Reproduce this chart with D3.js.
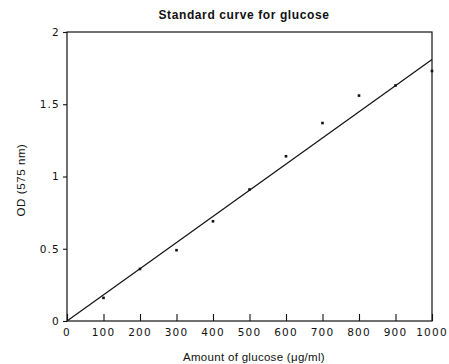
<!DOCTYPE html>
<html><head><meta charset="utf-8">
<script src="https://cdn.jsdelivr.net/npm/d3@7"></script>
<style>
body{margin:0;background:#fff;}
text{font-family:"Liberation Sans",Arial,sans-serif;fill:#111;}
</style></head>
<body><svg id="c" width="449" height="364"></svg>
<script>
const glucose = [100, 200, 300, 400, 500, 600, 700, 800, 900, 1000];
const od = [0.16, 0.36, 0.49, 0.69, 0.91, 1.14, 1.37, 1.56, 1.63, 1.73];
const fitX = [0, 1000];
const fitY = [0, 1.81];
const xTicks = [0, 100, 200, 300, 400, 500, 600, 700, 800, 900, 1000];
const yTicks = [0, 0.5, 1, 1.5, 2];
const yTickLabels = ["0", "0.5", "1", "1.5", "2"];

const svg = d3.select("#c");
const m = {l: 67, r: 432, t: 32, b: 321};
const x = d3.scaleLinear().domain([0, 1000]).range([m.l, m.r]);
const y = d3.scaleLinear().domain([0, 2]).range([m.b, m.t]);
const tickFont = "'DejaVu Sans',Verdana,sans-serif";

// frame
svg.append("rect").attr("x", m.l).attr("y", m.t).attr("width", m.r - m.l).attr("height", m.b - m.t)
  .attr("fill", "none").attr("stroke", "#111").attr("stroke-width", 1.2);

// x axis (ticks pointing inward)
const xa = svg.append("g").attr("transform", `translate(0,${m.b})`)
  .call(d3.axisTop(x).tickValues(xTicks).tickSize(7).tickFormat(""));
xa.select(".domain").remove();
xa.selectAll("line").attr("stroke", "#111").attr("stroke-width", 1.1);
svg.append("g").selectAll("text").data(xTicks).join("text")
  .attr("x", d => x(d)).attr("y", 336)
  .attr("text-anchor", "middle").style("font-family", tickFont).style("font-size", "10.5px").style("letter-spacing", "1.2px")
  .text(d => d);

// y axis (ticks outward)
const ya = svg.append("g").attr("transform", `translate(${m.l},0)`)
  .call(d3.axisLeft(y).tickValues(yTicks).tickSize(4).tickFormat((d, i) => yTickLabels[i]).tickPadding(3));
ya.select(".domain").remove();
ya.selectAll("line").attr("stroke", "#111").attr("stroke-width", 1.1);
ya.selectAll("text").style("font-size", "10.5px").style("letter-spacing", "1.2px")
  .style("font-family", tickFont).attr("fill", "#111");

// fit line
svg.append("path").datum(fitX.map((d, i) => [d, fitY[i]]))
  .attr("d", d3.line().x(d => x(d[0])).y(d => y(d[1])))
  .attr("fill", "none").attr("stroke", "#111").attr("stroke-width", 1.2);

// points
svg.append("g").selectAll("rect").data(glucose).join("rect")
  .attr("x", (d) => x(d) - 1.3).attr("y", (d, i) => y(od[i]) - 1.3)
  .attr("width", 2.6).attr("height", 2.6).attr("fill", "#111");

// title
svg.append("text").attr("x", 244).attr("y", 19).attr("text-anchor", "middle")
  .style("font-size", "12px").style("font-weight", "bold").style("letter-spacing", "0.6px")
  .text("Standard curve for glucose");

// x label
svg.append("text").attr("x", 254).attr("y", 361).attr("text-anchor", "middle")
  .style("font-size", "11.5px").style("letter-spacing", "0.3px")
  .text("Amount of glucose (μg/ml)");

// y label
svg.append("text").attr("transform", "translate(25,180) rotate(-90)").attr("text-anchor", "middle")
  .style("font-size", "11.5px").style("letter-spacing", "0.6px")
  .text("OD (575 nm)");
</script></body></html>
